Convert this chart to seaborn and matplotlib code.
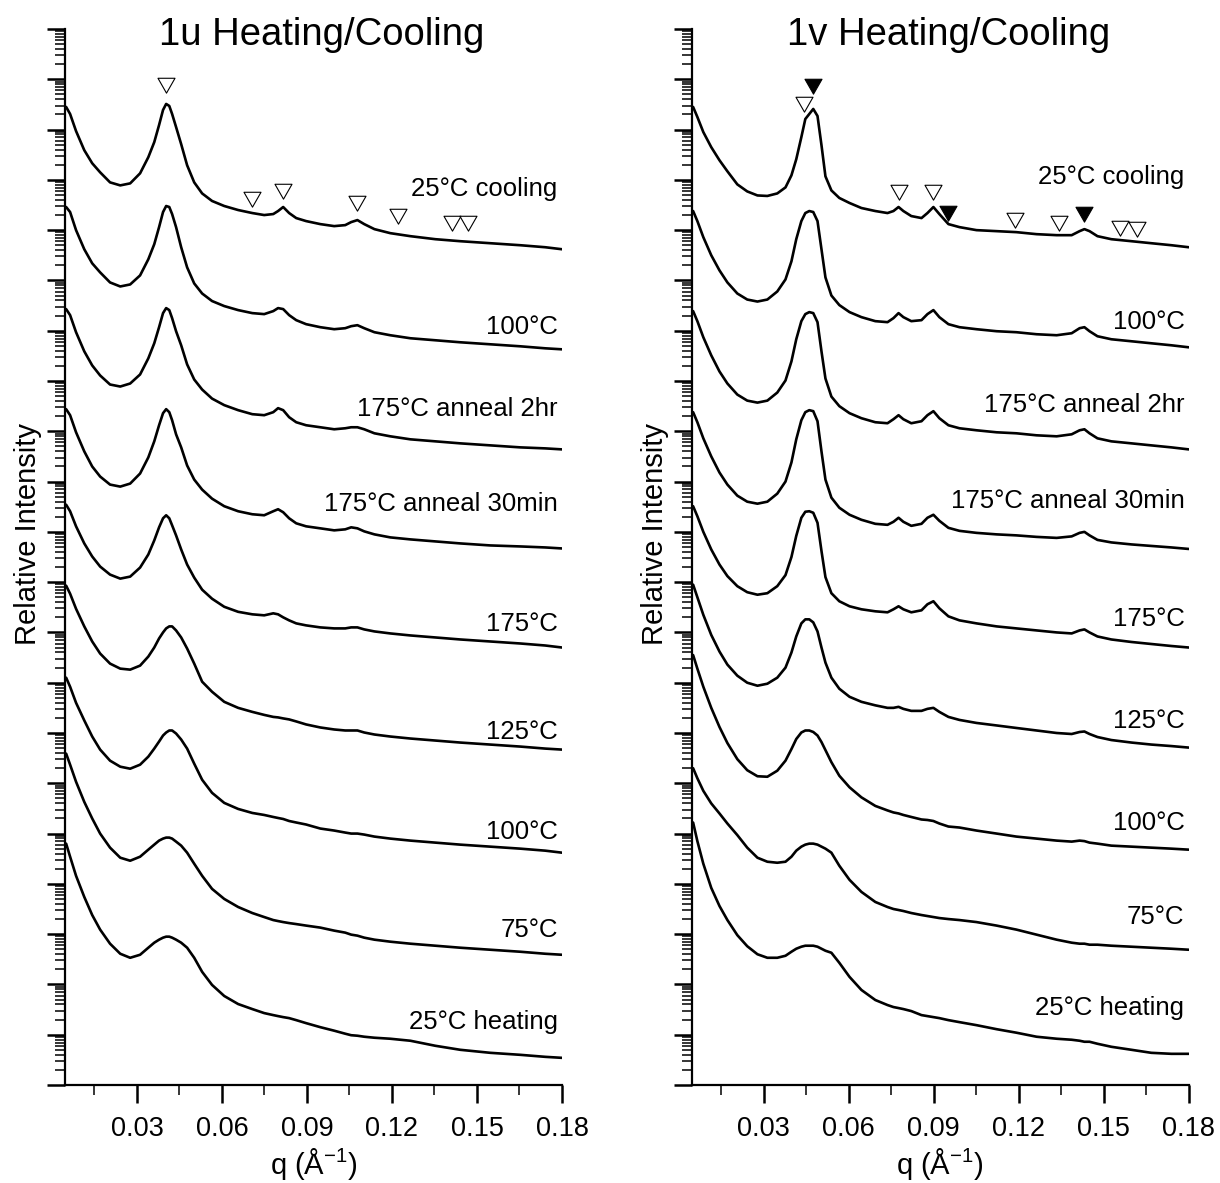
import numpy as np
import pandas as pd
import matplotlib
matplotlib.use("Agg")
import matplotlib.pyplot as plt
import seaborn as sns
from matplotlib.ticker import FixedLocator, FixedFormatter, LogLocator, NullFormatter
from matplotlib.path import Path

# ---------------- data ----------------
q_u = [0.0050, 0.0064, 0.0085, 0.0114, 0.0142, 0.0170, 0.0205, 0.0241, 0.0276, 0.0311,
       0.0340, 0.0361, 0.0378, 0.0392, 0.0403, 0.0414, 0.0424, 0.0438, 0.0456, 0.0477,
       0.0502, 0.0530, 0.0565, 0.0608, 0.0657, 0.0707, 0.0749, 0.0781, 0.0798, 0.0816,
       0.0837, 0.0862, 0.0897, 0.0947, 0.0996, 0.1035, 0.1056, 0.1078, 0.1102, 0.1138,
       0.1194, 0.1265, 0.1353, 0.1441, 0.1547, 0.1653, 0.1741, 0.1800]

# log10(relative intensity) of each 1u curve before stacking
u_25C_cooling = [3.45, 3.31, 2.97, 2.59, 2.33, 2.15, 1.95, 1.89, 1.93, 2.13, 2.45, 2.75, 3.09, 3.39, 3.51, 3.47,
                 3.31, 3.05, 2.71, 2.29, 1.95, 1.73, 1.58, 1.48, 1.40, 1.34, 1.30, 1.32, 1.38, 1.46, 1.34, 1.24,
                 1.18, 1.12, 1.08, 1.10, 1.16, 1.20, 1.12, 1.02, 0.94, 0.88, 0.82, 0.78, 0.74, 0.70, 0.66, 0.62]
u_100C_cool = [3.46, 3.36, 3.00, 2.62, 2.34, 2.16, 1.96, 1.88, 1.92, 2.10, 2.42, 2.72, 3.06, 3.36, 3.48, 3.46,
               3.32, 3.06, 2.66, 2.26, 1.94, 1.74, 1.59, 1.49, 1.41, 1.35, 1.33, 1.39, 1.45, 1.43, 1.31, 1.21,
               1.13, 1.07, 1.03, 1.05, 1.09, 1.11, 1.05, 0.97, 0.91, 0.85, 0.81, 0.77, 0.73, 0.69, 0.65, 0.63]
u_175C_2hr = [3.43, 3.31, 2.97, 2.59, 2.31, 2.11, 1.93, 1.89, 1.95, 2.13, 2.45, 2.75, 3.07, 3.35, 3.45, 3.41,
              3.25, 2.99, 2.71, 2.33, 2.03, 1.83, 1.65, 1.52, 1.42, 1.34, 1.32, 1.38, 1.46, 1.42, 1.28, 1.18,
              1.12, 1.08, 1.04, 1.06, 1.08, 1.08, 1.04, 0.96, 0.90, 0.84, 0.80, 0.76, 0.72, 0.68, 0.66, 0.64]
u_175C_30min = [3.44, 3.32, 2.98, 2.60, 2.30, 2.10, 1.94, 1.90, 1.96, 2.16, 2.48, 2.80, 3.12, 3.36, 3.44, 3.38,
                3.22, 2.94, 2.68, 2.32, 2.04, 1.84, 1.66, 1.51, 1.41, 1.35, 1.33, 1.41, 1.45, 1.39, 1.27, 1.17,
                1.11, 1.07, 1.03, 1.05, 1.09, 1.07, 1.01, 0.95, 0.89, 0.85, 0.81, 0.77, 0.73, 0.71, 0.69, 0.67]
u_175C = [3.54, 3.41, 3.11, 2.77, 2.51, 2.31, 2.15, 2.07, 2.11, 2.29, 2.55, 2.83, 3.09, 3.27, 3.33, 3.27,
          3.13, 2.93, 2.65, 2.35, 2.09, 1.85, 1.67, 1.51, 1.41, 1.36, 1.34, 1.38, 1.36, 1.30, 1.24, 1.18,
          1.14, 1.10, 1.08, 1.08, 1.10, 1.10, 1.06, 1.02, 0.98, 0.94, 0.90, 0.86, 0.82, 0.78, 0.74, 0.70]
u_125C = [3.93, 3.77, 3.47, 3.12, 2.82, 2.58, 2.38, 2.28, 2.26, 2.34, 2.52, 2.70, 2.88, 3.00, 3.08, 3.12,
          3.12, 3.04, 2.90, 2.68, 2.38, 2.02, 1.82, 1.62, 1.50, 1.42, 1.36, 1.32, 1.31, 1.29, 1.27, 1.23,
          1.17, 1.11, 1.07, 1.05, 1.05, 1.05, 1.01, 0.97, 0.93, 0.89, 0.85, 0.81, 0.77, 0.73, 0.69, 0.67]
u_100C_heat = [4.10, 3.92, 3.60, 3.25, 2.93, 2.67, 2.45, 2.33, 2.29, 2.37, 2.53, 2.69, 2.83, 2.95, 3.01, 3.05,
               3.05, 2.99, 2.87, 2.69, 2.39, 2.07, 1.81, 1.61, 1.49, 1.41, 1.37, 1.33, 1.31, 1.29, 1.25, 1.22,
               1.18, 1.10, 1.06, 1.02, 1.00, 1.00, 0.98, 0.94, 0.90, 0.86, 0.82, 0.78, 0.74, 0.70, 0.66, 0.62]
u_75C = [4.59, 4.37, 4.03, 3.63, 3.30, 3.00, 2.72, 2.52, 2.46, 2.54, 2.68, 2.78, 2.86, 2.90, 2.92, 2.92,
         2.90, 2.84, 2.76, 2.62, 2.40, 2.16, 1.90, 1.70, 1.54, 1.42, 1.34, 1.28, 1.26, 1.24, 1.22, 1.20,
         1.17, 1.13, 1.07, 1.03, 0.99, 0.97, 0.93, 0.89, 0.85, 0.81, 0.77, 0.73, 0.69, 0.65, 0.61, 0.59]
u_25C_heating = [4.80, 4.54, 4.16, 3.74, 3.38, 3.09, 2.81, 2.61, 2.53, 2.59, 2.73, 2.83, 2.89, 2.93, 2.95, 2.95,
                 2.93, 2.89, 2.83, 2.73, 2.53, 2.25, 1.99, 1.77, 1.61, 1.51, 1.43, 1.39, 1.37, 1.35, 1.33, 1.29,
                 1.23, 1.15, 1.08, 1.02, 0.99, 0.98, 0.96, 0.94, 0.92, 0.88, 0.78, 0.70, 0.64, 0.60, 0.56, 0.54]

q_v = [0.0051, 0.0066, 0.0087, 0.0115, 0.0144, 0.0172, 0.0207, 0.0242, 0.0278, 0.0313,
       0.0348, 0.0377, 0.0398, 0.0415, 0.0433, 0.0447, 0.0461, 0.0475, 0.0490, 0.0504,
       0.0518, 0.0539, 0.0567, 0.0603, 0.0645, 0.0694, 0.0737, 0.0758, 0.0776, 0.0793,
       0.0821, 0.0857, 0.0878, 0.0899, 0.0920, 0.0952, 0.0991, 0.1051, 0.1122, 0.1192,
       0.1263, 0.1334, 0.1387, 0.1415, 0.1432, 0.1450, 0.1478, 0.1527, 0.1598, 0.1668,
       0.1739, 0.1800]

v_25C_cooling = [3.45, 3.25, 2.95, 2.65, 2.39, 2.17, 1.91, 1.77, 1.69, 1.68, 1.73, 1.85, 2.09, 2.41, 2.85, 3.21,
                 3.31, 3.41, 3.27, 2.69, 2.07, 1.79, 1.64, 1.54, 1.44, 1.38, 1.34, 1.38, 1.46, 1.38, 1.28, 1.24,
                 1.34, 1.46, 1.32, 1.12, 1.06, 1.00, 0.98, 0.96, 0.92, 0.90, 0.90, 0.98, 1.02, 0.98, 0.88, 0.82,
                 0.78, 0.74, 0.70, 0.66]
v_100C_cool = [3.38, 3.18, 2.86, 2.50, 2.20, 1.96, 1.74, 1.62, 1.58, 1.62, 1.78, 2.02, 2.38, 2.82, 3.18, 3.34,
               3.38, 3.36, 3.18, 2.62, 2.06, 1.70, 1.51, 1.37, 1.27, 1.19, 1.17, 1.25, 1.35, 1.27, 1.19, 1.21,
               1.33, 1.41, 1.27, 1.13, 1.07, 1.03, 0.99, 0.97, 0.93, 0.91, 0.95, 1.05, 1.07, 0.99, 0.89, 0.83,
               0.79, 0.75, 0.71, 0.67]
v_175C_2hr = [3.39, 3.19, 2.87, 2.51, 2.19, 1.95, 1.73, 1.61, 1.57, 1.61, 1.77, 2.01, 2.39, 2.83, 3.19, 3.33,
              3.37, 3.35, 3.17, 2.59, 2.05, 1.69, 1.50, 1.36, 1.26, 1.18, 1.16, 1.24, 1.32, 1.24, 1.16, 1.20,
              1.32, 1.40, 1.26, 1.12, 1.06, 1.02, 0.98, 0.96, 0.92, 0.90, 0.94, 1.02, 1.04, 0.96, 0.86, 0.80,
              0.76, 0.72, 0.68, 0.64]
v_175C_30min = [3.38, 3.18, 2.86, 2.50, 2.18, 1.94, 1.72, 1.60, 1.56, 1.60, 1.76, 2.00, 2.38, 2.84, 3.22, 3.38,
                3.42, 3.40, 3.20, 2.60, 2.04, 1.68, 1.48, 1.34, 1.24, 1.16, 1.14, 1.20, 1.28, 1.20, 1.12, 1.16,
                1.28, 1.34, 1.22, 1.08, 1.02, 0.98, 0.95, 0.93, 0.90, 0.88, 0.91, 0.98, 1.00, 0.93, 0.84, 0.79,
                0.75, 0.72, 0.69, 0.66]
v_175C = [3.51, 3.31, 3.00, 2.65, 2.35, 2.12, 1.92, 1.80, 1.75, 1.78, 1.92, 2.14, 2.50, 2.92, 3.28, 3.40,
          3.41, 3.38, 3.18, 2.62, 2.10, 1.78, 1.62, 1.52, 1.46, 1.42, 1.40, 1.46, 1.52, 1.46, 1.40, 1.44,
          1.56, 1.62, 1.48, 1.32, 1.24, 1.18, 1.12, 1.08, 1.04, 1.00, 0.98, 1.04, 1.06, 1.00, 0.92, 0.86,
          0.81, 0.77, 0.73, 0.70]
v_125C = [3.95, 3.70, 3.35, 2.95, 2.62, 2.36, 2.14, 2.00, 1.94, 1.98, 2.10, 2.30, 2.60, 2.92, 3.18, 3.26,
          3.26, 3.20, 3.02, 2.70, 2.40, 2.10, 1.88, 1.72, 1.62, 1.55, 1.50, 1.50, 1.52, 1.48, 1.44, 1.44,
          1.48, 1.50, 1.42, 1.32, 1.26, 1.20, 1.15, 1.10, 1.05, 1.00, 0.98, 1.02, 1.03, 0.98, 0.92, 0.86,
          0.81, 0.77, 0.74, 0.71]
v_100C_heat = [4.55, 4.28, 3.92, 3.50, 3.12, 2.80, 2.48, 2.26, 2.14, 2.13, 2.25, 2.45, 2.68, 2.88, 3.01, 3.05,
               3.05, 3.02, 2.95, 2.82, 2.66, 2.42, 2.15, 1.92, 1.72, 1.55, 1.46, 1.42, 1.40, 1.37, 1.33, 1.28,
               1.27, 1.25, 1.20, 1.14, 1.12, 1.06, 1.00, 0.94, 0.90, 0.86, 0.84, 0.86, 0.85, 0.82, 0.80, 0.76,
               0.74, 0.72, 0.70, 0.68]
v_75C = [4.30, 4.10, 3.85, 3.60, 3.40, 3.20, 2.97, 2.72, 2.52, 2.44, 2.42, 2.44, 2.54, 2.66, 2.74, 2.78,
         2.80, 2.80, 2.78, 2.74, 2.70, 2.62, 2.36, 2.08, 1.84, 1.64, 1.54, 1.50, 1.48, 1.46, 1.42, 1.38,
         1.36, 1.34, 1.32, 1.30, 1.28, 1.24, 1.17, 1.09, 0.99, 0.89, 0.83, 0.81, 0.81, 0.79, 0.79, 0.77,
         0.75, 0.73, 0.71, 0.69]
v_25C_heating = [5.22, 4.85, 4.40, 3.92, 3.56, 3.28, 2.98, 2.76, 2.60, 2.53, 2.53, 2.57, 2.65, 2.71, 2.75, 2.77,
                 2.77, 2.77, 2.75, 2.71, 2.67, 2.63, 2.43, 2.15, 1.89, 1.69, 1.59, 1.55, 1.53, 1.51, 1.47, 1.39,
                 1.37, 1.35, 1.33, 1.29, 1.25, 1.19, 1.11, 1.04, 0.96, 0.92, 0.90, 0.88, 0.86, 0.86, 0.82, 0.76,
                 0.70, 0.64, 0.62, 0.62]

curve_labels = ["25°C cooling", "100°C", "175°C anneal 2hr", "175°C anneal 30min",
                "175°C", "125°C", "100°C", "75°C", "25°C heating"]
stack_decades = [16, 14, 12, 10, 8, 6, 4, 2, 0]   # multiplicative offsets (powers of 10)

u_curves = [u_25C_cooling, u_100C_cool, u_175C_2hr, u_175C_30min, u_175C,
            u_125C, u_100C_heat, u_75C, u_25C_heating]
v_curves = [v_25C_cooling, v_100C_cool, v_175C_2hr, v_175C_30min, v_175C,
            v_125C, v_100C_heat, v_75C, v_25C_heating]

# peak markers (q, log10 I relative to the top curve)
u_open_q = [0.0403, 0.0706, 0.0815, 0.1077, 0.1222, 0.1412, 0.1469]
u_open_logI = [3.88, 1.62, 1.77, 1.54, 1.28, 1.14, 1.14]
v_open_q = [0.0443, 0.0776, 0.0896, 0.1187, 0.1344, 0.1556, 0.1618]
v_open_logI = [3.51, 1.75, 1.75, 1.20, 1.15, 1.04, 1.02]
v_fill_q = [0.0475, 0.0952, 0.1429]
v_fill_logI = [3.87, 1.35, 1.32]

# label heights (log10 I on the stacked axis)
u_label_logI = [17.81, 15.07, 13.44, 11.55, 9.16, 7.01, 5.04, 3.09, 1.25]
v_label_logI = [18.05, 15.17, 13.52, 11.62, 9.26, 7.23, 5.21, 3.34, 1.53]

titles = ["1u Heating/Cooling", "1v Heating/Cooling"]
xticks = [0.03, 0.06, 0.09, 0.12, 0.15, 0.18]
xtick_labels = ["0.03", "0.06", "0.09", "0.12", "0.15", "0.18"]
xminor = [0.015, 0.045, 0.075, 0.105, 0.135, 0.165]

# ---------------- style ----------------
sns.set_style("ticks")
plt.rcParams['font.family'] = ['Liberation Sans', 'DejaVu Sans']
plt.rcParams['mathtext.fontset'] = 'custom'
plt.rcParams['mathtext.rm'] = 'Liberation Sans'
plt.rcParams['mathtext.it'] = 'Liberation Sans:italic'
for key in ['text.color', 'axes.labelcolor', 'xtick.color', 'ytick.color', 'axes.edgecolor']:
    plt.rcParams[key] = 'black'
plt.rcParams['axes.linewidth'] = 1.6

W, H = 1220, 1183
fig = plt.figure(figsize=(W / 100, H / 100), dpi=100)
ax_u = fig.add_axes([65 / W, 1 - 1085 / H, 497 / W, 1056 / H])
ax_v = fig.add_axes([691.7 / W, 1 - 1085 / H, 497 / W, 1056 / H])

tri = Path([(-1, 0.85), (1, 0.85), (0, -0.9), (-1, 0.85)],
           [Path.MOVETO, Path.LINETO, Path.LINETO, Path.CLOSEPOLY])


def make_df(q, curves):
    rows = []
    for i, (logI, off) in enumerate(zip(curves, stack_decades)):
        for qq, li in zip(q, logI):
            rows.append((i, qq, 10 ** (li + off)))
    return pd.DataFrame(rows, columns=["curve", "q", "I"])


panels = [
    (ax_u, q_u, u_curves, u_label_logI, (u_open_q, u_open_logI), None, titles[0], 313.5),
    (ax_v, q_v, v_curves, v_label_logI, (v_open_q, v_open_logI), (v_fill_q, v_fill_logI), titles[1], 940),
]

for ax, q, curves, lab_y, opn, fil, title, xc in panels:
    df = make_df(q, curves)
    sns.lineplot(data=df, x="q", y="I", units="curve", estimator=None, sort=False,
                 color="black", linewidth=1.9, solid_joinstyle="round", ax=ax)
    top = 10 ** stack_decades[0]
    sns.scatterplot(x=opn[0], y=[10 ** v * top for v in opn[1]], marker=tri, s=150,
                    facecolor="white", edgecolor="black", linewidth=0.8, ax=ax, zorder=5)
    if fil is not None:
        sns.scatterplot(x=fil[0], y=[10 ** v * top for v in fil[1]], marker=tri, s=150,
                        color="black", edgecolor="black", linewidth=0.8, ax=ax, zorder=5)
    for lab, ly in zip(curve_labels, lab_y):
        ax.text(0.1785, 10 ** ly, lab, ha="right", va="center", fontsize=18.5)

    ax.set_yscale("log")
    ax.set_ylim(1, 1e21)
    ax.set_xlim(0.0046, 0.18)
    ax.yaxis.set_major_locator(LogLocator(base=10, numticks=40))
    ax.yaxis.set_minor_locator(LogLocator(base=10, subs=np.arange(2, 10), numticks=40))
    ax.yaxis.set_major_formatter(NullFormatter())
    ax.yaxis.set_minor_formatter(NullFormatter())
    ax.xaxis.set_major_locator(FixedLocator(xticks))
    ax.xaxis.set_major_formatter(FixedFormatter(xtick_labels))
    ax.xaxis.set_minor_locator(FixedLocator(xminor))
    ax.tick_params(axis="both", which="major", direction="out", length=13, width=1.8,
                   labelsize=19.5, pad=9)
    ax.tick_params(axis="both", which="minor", direction="out", length=7, width=1.1)
    sns.despine(ax=ax)
    ax.set_xlabel("q (Å$^{-1}$)", fontsize=21)
    ax.xaxis.set_label_coords(0.5, -0.058)
    ax.set_ylabel("Relative Intensity", fontsize=21)
    ax.yaxis.set_label_coords(-0.046, 0.522)
    fig.text(xc / W + 0.007, 1 - 45 / H, title, ha="center", va="baseline", fontsize=27.5)

fig.savefig("out.png", dpi=100)
